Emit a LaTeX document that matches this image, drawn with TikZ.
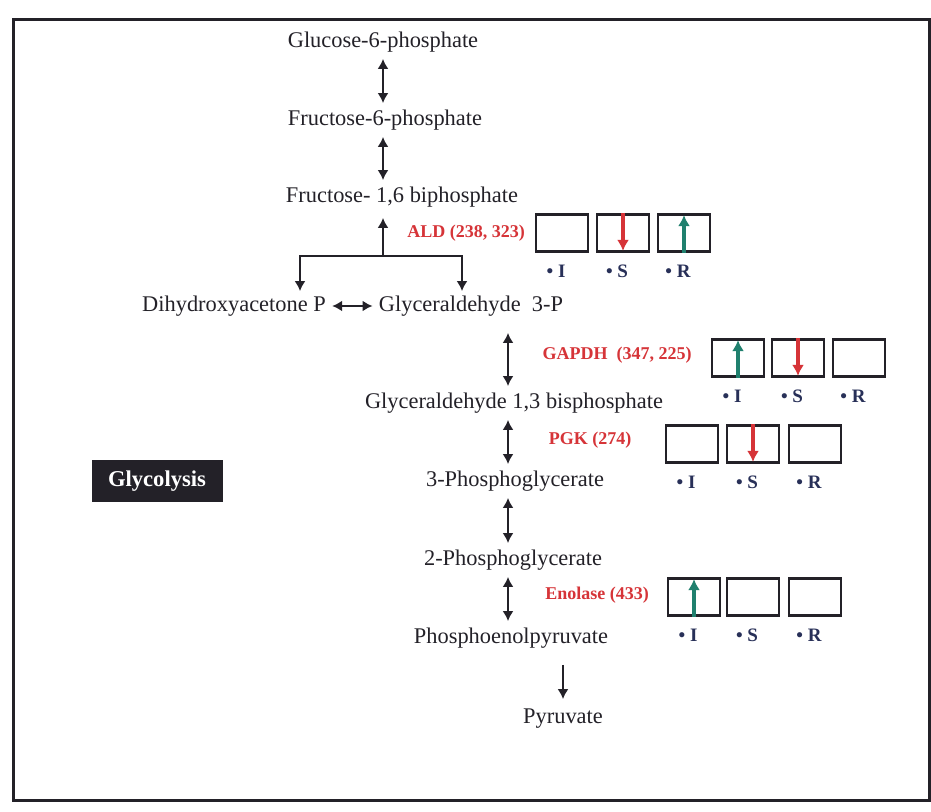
\documentclass[tikz,border=0pt]{standalone}
\usepackage{fontspec}
\setmainfont{Liberation Serif}
\usetikzlibrary{positioning}
\usetikzlibrary{arrows.meta}

\definecolor{ink}{RGB}{35,33,40}
\definecolor{enzred}{RGB}{214,52,56}
\definecolor{upgreen}{RGB}{32,128,110}
\definecolor{navy}{RGB}{40,48,88}

\tikzset{
  metab/.style={font=\fontsize{11.2}{13}\selectfont, text=ink, text height=8pt, text depth=2.5pt, inner sep=1pt},
  enzyme/.style={font=\fontsize{9}{11}\selectfont\bfseries, text=enzred, inner sep=1pt},
  cell/.style={draw=ink, line width=1.4pt, minimum width=26pt, minimum height=18.5pt, inner sep=0pt},
  tissue/.style={font=\fontsize{9.5}{11}\selectfont\bfseries, text=navy, text height=7pt, text depth=0pt, inner sep=1pt},
  rxn/.style={{Latex[length=5pt,width=5.5pt]}-{Latex[length=5pt,width=5.5pt]}, line width=1.3pt, draw=ink, shorten <=2pt, shorten >=2pt},
  fwd/.style={-{Latex[length=5pt,width=5.5pt]}, line width=1.3pt, draw=ink},
  down/.style={-{Latex[length=5.5pt,width=6pt]}, line width=1.7pt, draw=enzred, shorten >=1pt},
  up/.style={-{Latex[length=5.5pt,width=6pt]}, line width=1.7pt, draw=upgreen, shorten >=1pt}
}

\begin{document}
\begin{tikzpicture}[x=0.5pt, y=-0.5pt]
\fill[white] (0,0) rectangle (931,812);
\useasboundingbox (0,0) rectangle (931,812);
\draw[line width=1.5pt, ink] (13,20) rectangle (929,800);

% metabolites
\node[metab] (g6p) at (383,42) {Glucose-6-phosphate};
\node[metab] (f6p) at (385,120) {Fructose-6-phosphate};
\node[metab] (f16) at (402,197) {Fructose- 1,6 biphosphate};
\node[metab] (dhap) at (234,306) {Dihydroxyacetone P};
\node[metab] (g3p) at (471,306) {Glyceraldehyde\ \ 3-P};
\node[metab] (g13bp) at (514,403) {Glyceraldehyde 1,3 bisphosphate};
\node[metab] (pg3) at (515,481) {3-Phosphoglycerate};
\node[metab] (pg2) at (513,560) {2-Phosphoglycerate};
\node[metab] (pep) at (511,638) {Phosphoenolpyruvate};
\node[metab] (pyr) at (563,718) {Pyruvate};

\node[fill=ink, text=white, font=\fontsize{11.3}{13}\selectfont\bfseries, minimum width=65.5pt, minimum height=21pt, inner sep=0pt] (glyco) at (157,481) {Glycolysis};

% reactions
\coordinate (topaxis) at (383,0);
\coordinate (axis) at (508,0);
\coordinate (split) at (383,256);
\coordinate (splitL) at (300,256);
\coordinate (splitR) at (462,256);
\draw[rxn] (g6p.south -| topaxis) -- (f6p.north -| topaxis);
\draw[rxn] (f6p.south -| topaxis) -- (f16.north -| topaxis);
\draw[fwd, shorten >=4pt] (split) -- (split |- f16.south);
\draw[fwd, shorten >=1pt] (split) -| (splitL |- dhap.north);
\draw[fwd, shorten >=1pt] (split) -| (splitR |- g3p.north);
\draw[rxn] (dhap) -- (g3p);
\draw[rxn, shorten <=7pt] (g3p.south -| axis) -- (g13bp.north -| axis);
\draw[rxn] (g13bp.south -| axis) -- (pg3.north -| axis);
\draw[rxn] (pg3.south -| axis) -- (pg2.north -| axis);
\draw[rxn] (pg2.south -| axis) -- (pep.north -| axis);
\draw[fwd, shorten <=7pt, shorten >=3pt] (pep.south -| pyr) -- (pyr.north);

% enzymes
\node[enzyme] (ald) at (466,233) {ALD (238, 323)};
\node[enzyme] (gapdh) at (617,355) {GAPDH\ \ (347, 225)};
\node[enzyme] (pgk) at (590,440) {PGK (274)};
\node[enzyme] (eno) at (597,595) {Enolase (433)};

% ALD
\node[cell] (aldI) at (562,233) {};
\node[cell] (aldS) at (623,233) {};
\node[cell] (aldR) at (684,233) {};
\draw[down] (aldS.north) -- (aldS.south);
\draw[up] (aldR.south) -- (aldR.north);
\node[tissue, below=4pt of aldI, xshift=-3pt] (aldIt) {\textbullet\ I};
\node[tissue, below=4pt of aldS, xshift=-3pt] (aldSt) {\textbullet\ S};
\node[tissue, below=4pt of aldR, xshift=-3pt] (aldRt) {\textbullet\ R};

% GAPDH
\node[cell] (gapdhI) at (738,358) {};
\node[cell] (gapdhS) at (798,358) {};
\node[cell] (gapdhR) at (859,358) {};
\draw[up] (gapdhI.south) -- (gapdhI.north);
\draw[down] (gapdhS.north) -- (gapdhS.south);
\node[tissue, below=4pt of gapdhI, xshift=-3pt] (gapdhIt) {\textbullet\ I};
\node[tissue, below=4pt of gapdhS, xshift=-3pt] (gapdhSt) {\textbullet\ S};
\node[tissue, below=4pt of gapdhR, xshift=-3pt] (gapdhRt) {\textbullet\ R};

% PGK
\node[cell] (pgkI) at (692,444) {};
\node[cell] (pgkS) at (753,444) {};
\node[cell] (pgkR) at (815,444) {};
\draw[down] (pgkS.north) -- (pgkS.south);
\node[tissue, below=4pt of pgkI, xshift=-3pt] (pgkIt) {\textbullet\ I};
\node[tissue, below=4pt of pgkS, xshift=-3pt] (pgkSt) {\textbullet\ S};
\node[tissue, below=4pt of pgkR, xshift=-3pt] (pgkRt) {\textbullet\ R};

% Enolase
\node[cell] (enoI) at (694,597) {};
\node[cell] (enoS) at (753,597) {};
\node[cell] (enoR) at (815,597) {};
\draw[up] (enoI.south) -- (enoI.north);
\node[tissue, below=4pt of enoI, xshift=-3pt] (enoIt) {\textbullet\ I};
\node[tissue, below=4pt of enoS, xshift=-3pt] (enoSt) {\textbullet\ S};
\node[tissue, below=4pt of enoR, xshift=-3pt] (enoRt) {\textbullet\ R};
\end{tikzpicture}
\end{document}
